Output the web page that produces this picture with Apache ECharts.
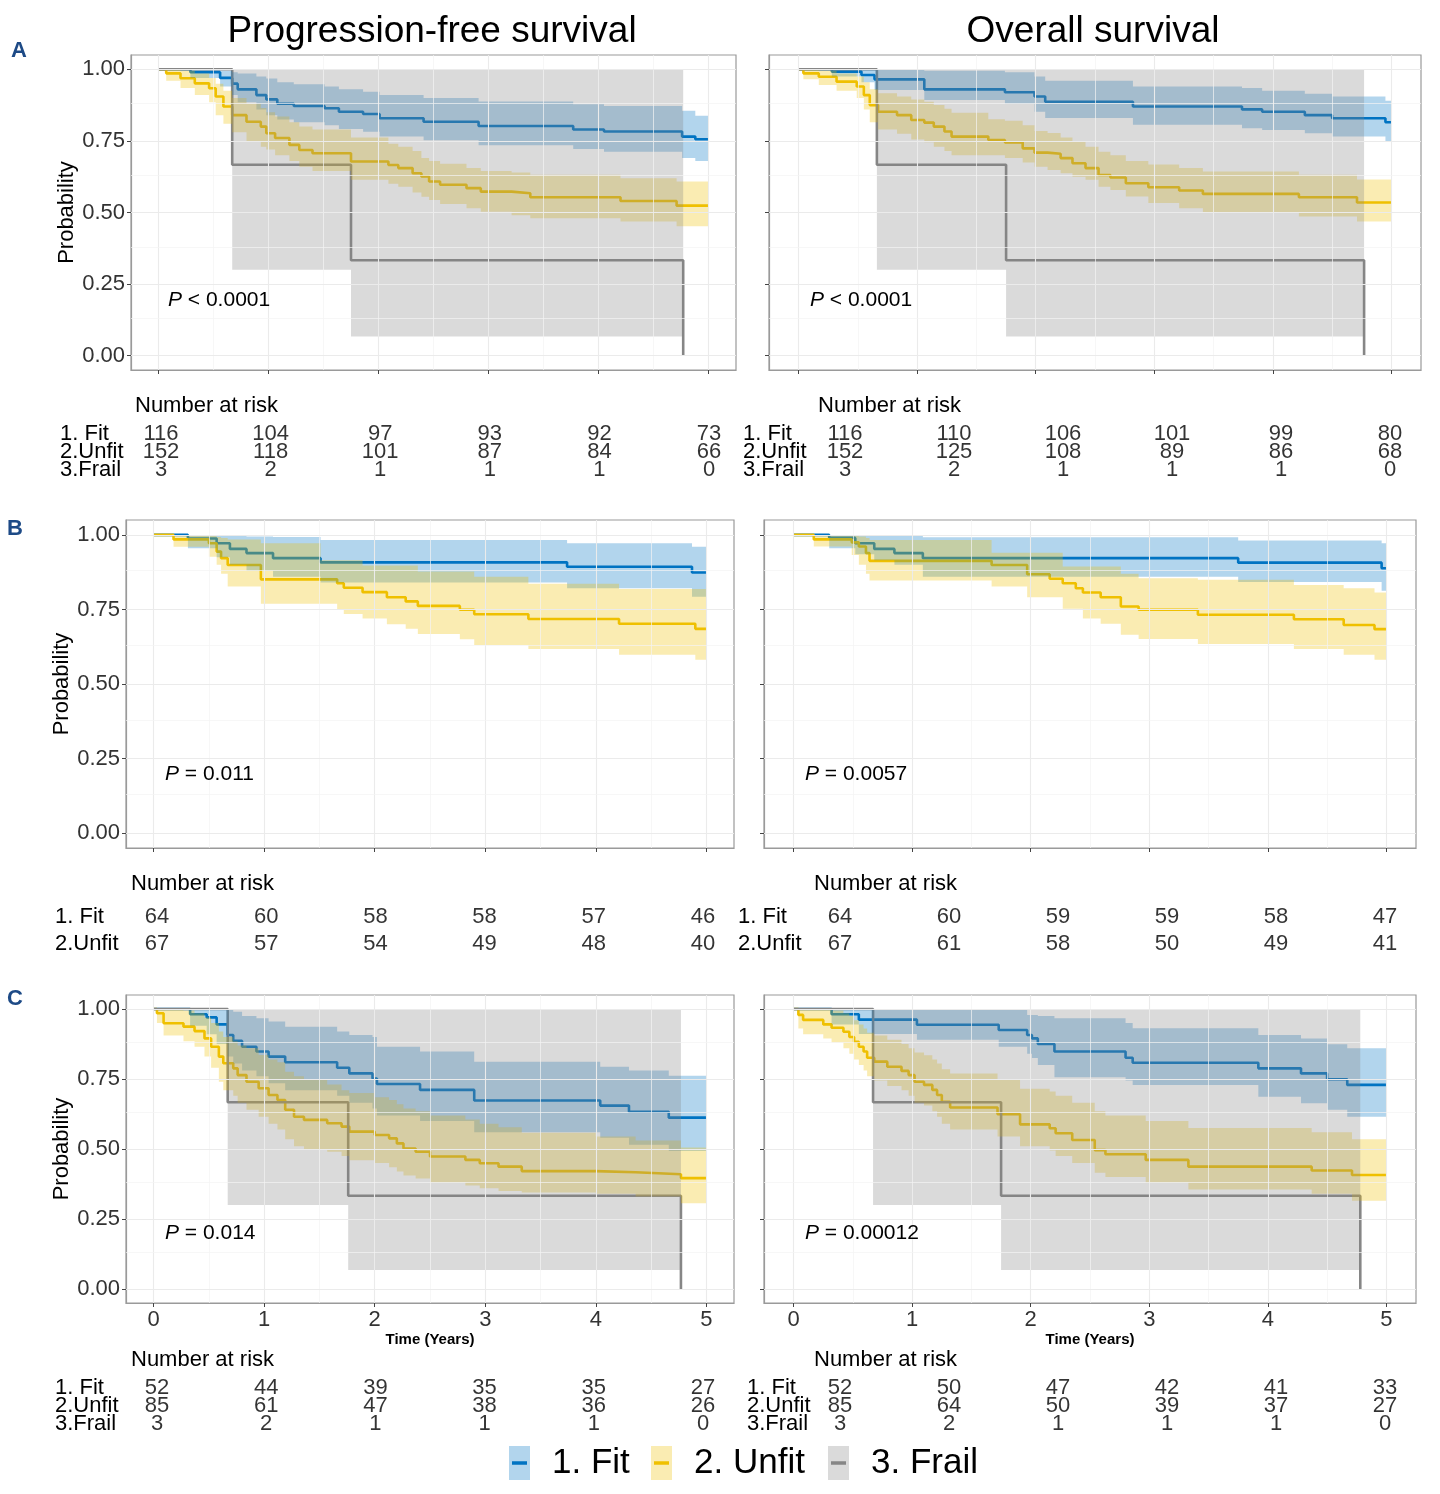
<!DOCTYPE html>
<html>
<head>
<meta charset="utf-8">
<title>Survival by fitness group</title>
<script src="https://cdn.jsdelivr.net/npm/echarts@6/dist/echarts.min.js"></script>
<style>
  html, body { margin: 0; padding: 0; background: #fff; }
  #main { width: 1440px; height: 1494px; }
</style>
</head>
<body>
<div id="main"></div>
<script>
// each row: [time in years, survival, lower CI, upper CI]
// A: all patients
var aPfsFit = [[0,1,1,1],[0.29,.99,.97,1],[0.56,.97,.94,.995],[0.67,.95,.91,.99],[0.72,.93,.885,.985],[0.89,.91,.86,.975],[0.98,.895,.84,.968],[1.08,.88,.825,.955],[1.23,.872,.815,.948],[1.51,.864,.805,.94],[1.64,.852,.792,.93],[1.86,.844,.782,.922],[2.01,.829,.765,.91],[2.41,.817,.752,.9],[2.91,.802,.735,.888],[3.77,.79,.722,.878],[4.05,.783,.712,.872],[4.76,.765,.69,.855],[4.88,.756,.68,.838],[5,.756,.68,.838]];
var aPfsUnfit = [[0,1,1,1],[0.07,.986,.96,1],[0.2,.969,.935,.995],[0.33,.951,.91,.985],[0.46,.934,.885,.97],[0.52,.905,.84,.95],[0.59,.87,.81,.925],[0.67,.84,.78,.9],[0.8,.817,.75,.88],[0.93,.8,.73,.865],[0.98,.777,.72,.85],[1.06,.76,.7,.835],[1.19,.736,.68,.815],[1.28,.718,.66,.8],[1.4,.707,.645,.79],[1.75,.678,.614,.762],[2.09,.666,.6,.74],[2.18,.655,.59,.73],[2.31,.637,.57,.715],[2.39,.626,.555,.69],[2.46,.608,.544,.68],[2.56,.597,.53,.67],[2.8,.585,.515,.655],[2.93,.573,.503,.645],[3.21,.567,.49,.64],[3.38,.553,.48,.632],[4.2,.54,.469,.62],[4.71,.524,.452,.608],[5,.524,.452,.608]];
var aPfsFrail = [[0,1,1,1],[0.67,.667,.3,1],[1.75,.333,.067,1],[4.77,0,0,1]];
var aOsFit = [[0,1,1,1],[0.28,.992,.975,1],[0.53,.98,.955,1],[0.64,.965,.928,.998],[1.06,.93,.893,.995],[1.74,.92,.88,.99],[1.99,.905,.852,.975],[2.08,.887,.83,.96],[2.82,.87,.806,.94],[3.74,.86,.794,.935],[3.91,.852,.788,.925],[4.27,.84,.777,.915],[4.5,.829,.765,.905],[4.95,.815,.75,.89],[5,.815,.75,.89]];
var aOsUnfit = [[0,1,1,1],[0.04,.986,.965,1],[0.17,.974,.945,.995],[0.32,.957,.925,.985],[0.49,.94,.9,.975],[0.55,.91,.86,.955],[0.6,.875,.815,.93],[0.67,.852,.79,.916],[0.83,.84,.775,.905],[0.95,.823,.755,.895],[1.06,.814,.745,.887],[1.14,.8,.73,.875],[1.23,.783,.715,.862],[1.29,.765,.7,.848],[1.6,.753,.7,.826],[1.74,.745,.69,.82],[1.89,.724,.675,.805],[1.99,.709,.66,.785],[2.1,.705,.648,.778],[2.21,.69,.637,.762],[2.31,.672,.625,.748],[2.42,.655,.614,.73],[2.53,.631,.59,.712],[2.63,.622,.579,.7],[2.76,.602,.556,.68],[2.95,.588,.533,.668],[3.21,.577,.515,.655],[3.41,.565,.498,.643],[4.22,.553,.486,.632],[4.71,.535,.469,.615],[5,.535,.469,.615]];
var aOsFrail = [[0,1,1,1],[0.66,.667,.3,1],[1.75,.333,.067,1],[4.77,0,0,1]];
// B: patients without frail group
var bPfsFit = [[0,1,1,1],[0.31,.988,.955,1],[0.57,.972,.925,.998],[0.69,.953,.9,.997],[0.84,.939,.88,.995],[1.08,.922,.86,.993],[1.51,.908,.84,.983],[3.74,.893,.821,.972],[4.87,.874,.793,.96],[5,.874,.793,.96]];
var bPfsUnfit = [[0,1,1,1],[0.18,.985,.96,1],[0.5,.972,.927,.997],[0.57,.944,.9,.993],[0.61,.922,.87,.99],[0.67,.899,.827,.985],[0.97,.851,.769,.972],[1.51,.851,.769,.915],[1.66,.838,.749,.915],[1.72,.823,.735,.915],[1.89,.808,.72,.897],[2.11,.791,.7,.897],[2.28,.777,.685,.897],[2.39,.762,.668,.877],[2.77,.749,.65,.877],[2.9,.734,.631,.86],[3.39,.718,.617,.836],[4.21,.702,.598,.819],[4.9,.685,.581,.819],[5,.685,.581,.819]];
var bOsFit = [[0,1,1,1],[0.3,.99,.955,1],[0.52,.972,.935,1],[0.68,.953,.915,1],[0.85,.939,.9,1],[1.09,.922,.86,.992],[3.75,.907,.842,.981],[4.96,.888,.813,.972],[5,.888,.813,.972]];
var bOsUnfit = [[0,1,1,1],[0.17,.985,.961,1],[0.49,.975,.933,.998],[0.55,.961,.9,.995],[0.61,.939,.87,.99],[0.64,.913,.847,.983],[1.67,.899,.827,.94],[1.97,.868,.791,.94],[2.16,.853,.791,.94],[2.27,.838,.752,.894],[2.38,.821,.752,.894],[2.44,.807,.72,.894],[2.59,.791,.702,.894],[2.76,.76,.665,.87],[2.91,.749,.651,.855],[3.41,.732,.634,.85],[4.22,.717,.617,.832],[4.64,.698,.598,.821],[4.9,.684,.581,.807],[5,.684,.581,.807]];
// C: subgroup
var cPfsFit = [[0,1,1,1],[0.33,.981,.94,1],[0.48,.97,.91,1],[0.57,.945,.875,1],[0.67,.907,.83,1],[0.72,.886,.805,.99],[0.8,.865,.78,.975],[0.93,.848,.76,.967],[1.04,.83,.735,.955],[1.19,.81,.71,.937],[1.66,.79,.69,.92],[1.77,.77,.665,.907],[1.98,.752,.645,.9],[2.02,.732,.62,.865],[2.41,.711,.6,.848],[2.9,.673,.56,.812],[4.04,.655,.54,.794],[4.3,.633,.515,.78],[4.66,.612,.493,.762],[5,.612,.493,.762]];
var cPfsUnfit = [[0,1,1,1],[0.03,.985,.95,1],[0.09,.949,.905,1],[0.27,.937,.885,.995],[0.37,.921,.865,.985],[0.46,.895,.83,.97],[0.52,.865,.79,.95],[0.59,.83,.74,.92],[0.63,.806,.71,.9],[0.72,.788,.69,.885],[0.76,.764,.665,.87],[0.84,.74,.64,.86],[0.95,.717,.615,.836],[1.04,.693,.59,.82],[1.12,.675,.57,.81],[1.19,.64,.535,.776],[1.27,.615,.51,.76],[1.36,.604,.5,.75],[1.57,.592,.49,.73],[1.7,.58,.475,.71],[1.77,.562,.46,.7],[2,.55,.45,.685],[2.13,.538,.435,.675],[2.2,.52,.42,.66],[2.26,.502,.405,.645],[2.37,.49,.395,.635],[2.5,.473,.38,.62],[2.82,.461,.37,.605],[2.95,.449,.36,.59],[3.12,.437,.35,.578],[3.33,.421,.345,.558],[4,.417,.34,.545],[4.36,.41,.33,.53],[4.77,.396,.306,.505],[5,.396,.306,.505]];
var cPfsFrail = [[0,1,1,1],[0.67,.667,.3,1],[1.76,.333,.068,1],[4.77,0,0,1]];
var cOsFit = [[0,1,1,1],[0.32,.981,.945,1],[0.55,.962,.911,1],[1.04,.944,.89,1],[1.73,.925,.865,1],[1.97,.907,.84,.979],[2.01,.895,.825,.979],[2.06,.875,.8,.975],[2.2,.848,.756,.967],[2.8,.826,.745,.95],[2.86,.808,.729,.931],[3.92,.788,.687,.907],[4.28,.77,.663,.895],[4.5,.749,.64,.874],[4.67,.729,.615,.86],[5,.729,.615,.86]];
var cOsUnfit = [[0,1,1,1],[0.04,.979,.93,1],[0.08,.961,.91,1],[0.25,.945,.895,1],[0.32,.933,.88,.995],[0.42,.919,.86,.985],[0.47,.9,.84,.975],[0.51,.883,.82,.96],[0.55,.865,.8,.945],[0.59,.848,.78,.93],[0.62,.826,.76,.915],[0.68,.812,.745,.905],[0.79,.794,.725,.89],[0.91,.779,.71,.875],[0.97,.764,.69,.86],[1.02,.74,.665,.845],[1.1,.729,.655,.835],[1.17,.711,.635,.82],[1.21,.693,.615,.805],[1.25,.669,.59,.785],[1.32,.648,.57,.77],[1.72,.624,.545,.75],[1.91,.588,.51,.715],[2.16,.574,.495,.705],[2.21,.556,.475,.69],[2.35,.532,.45,.665],[2.54,.496,.415,.635],[2.63,.481,.4,.62],[2.97,.461,.38,.6],[3.33,.437,.355,.575],[4.37,.423,.34,.56],[4.71,.407,.315,.535],[5,.407,.315,.535]];
var cOsFrail = [[0,1,1,1],[0.67,.667,.3,1],[1.75,.333,.068,1],[4.78,0,0,1]];

// number at risk at years 0..5
var riskTimes = [0, 1, 2, 3, 4, 5];
var aPfsRisk = [[116,104,97,93,92,73],[152,118,101,87,84,66],[3,2,1,1,1,0]];
var aOsRisk = [[116,110,106,101,99,80],[152,125,108,89,86,68],[3,2,1,1,1,0]];
var bPfsRisk = [[64,60,58,58,57,46],[67,57,54,49,48,40]];
var bOsRisk = [[64,60,59,59,58,47],[67,61,58,50,49,41]];
var cPfsRisk = [[52,44,39,35,35,27],[85,61,47,38,36,26],[3,2,1,1,1,0]];
var cOsRisk = [[52,50,47,42,41,33],[85,64,50,39,37,27],[3,2,1,1,1,0]];

var groupNames = ['1. Fit', '2. Unfit', '3. Frail'];
var tableNames = ['1. Fit', '2.Unfit', '3.Frail'];
var pValues = ['< 0.0001', '< 0.0001', '= 0.011', '= 0.0057', '= 0.014', '= 0.00012'];
var xTicks = [0, 1, 2, 3, 4, 5];
var yTicks = [0, 0.25, 0.5, 0.75, 1];
var xMinor = [0.5, 1.5, 2.5, 3.5, 4.5];
var yMinor = [0.125, 0.375, 0.625, 0.875];

var FONT = "'Liberation Sans', Arial, sans-serif";
var lineColors = ['#0073C2', '#EFC000', '#868686'];

// panel layout: box = [left, top, width, height]
var panels = [
  {box: [131, 55, 605, 315], curves: [aPfsFit, aPfsUnfit, aPfsFrail], yLab: true, xLab: false, pX: 168, pY: 300},
  {box: [769, 55, 652, 315], curves: [aOsFit, aOsUnfit, aOsFrail], yLab: false, xLab: false, pX: 810, pY: 300},
  {box: [126, 520, 608, 328], curves: [bPfsFit, bPfsUnfit], yLab: true, xLab: false, pX: 165, pY: 774},
  {box: [764, 520, 652, 328], curves: [bOsFit, bOsUnfit], yLab: false, xLab: false, pX: 805, pY: 774},
  {box: [126, 995, 608, 308], curves: [cPfsFit, cPfsUnfit, cPfsFrail], yLab: true, xLab: true, pX: 165, pY: 1233},
  {box: [764, 995, 652, 308], curves: [cOsFit, cOsUnfit, cOsFrail], yLab: false, xLab: true, pX: 805, pY: 1233}
];

// risk tables: x0/x5 = where year 0 and 5 sit
var tables = [
  {risk: aPfsRisk, x0: 161, x5: 709, top: 425, rowH: 18, labelX: 60, titleX: 135, titleY: 406},
  {risk: aOsRisk, x0: 845, x5: 1390, top: 425, rowH: 18, labelX: 743, titleX: 818, titleY: 406},
  {risk: bPfsRisk, x0: 157, x5: 703, top: 903, rowH: 27, labelX: 55, titleX: 131, titleY: 884},
  {risk: bOsRisk, x0: 840, x5: 1385, top: 903, rowH: 27, labelX: 738, titleX: 814, titleY: 884},
  {risk: cPfsRisk, x0: 157, x5: 703, top: 1379, rowH: 18, labelX: 55, titleX: 131, titleY: 1360},
  {risk: cOsRisk, x0: 840, x5: 1385, top: 1379, rowH: 18, labelX: 747, titleX: 814, titleY: 1360}
];

var option = {
  animation: false,
  textStyle: {fontFamily: FONT},
  grid: [], xAxis: [], yAxis: [], series: [], graphic: []
};

// 阶梯置信带（多边形）
function bandSeries(rows, color, gi) {
  return {
    type: 'custom', xAxisIndex: gi, yAxisIndex: gi, z: 3, silent: true,
    data: rows.map(function (r) { return [r[0], r[2], r[3]]; }),
    renderItem: function (params, api) {
      if (params.dataIndex !== 0) return null;
      var up = [], lo = [];
      for (var i = 0; i < rows.length - 1; i++) {
        up.push(api.coord([rows[i][0], rows[i][3]]), api.coord([rows[i + 1][0], rows[i][3]]));
        lo.push(api.coord([rows[i][0], rows[i][2]]), api.coord([rows[i + 1][0], rows[i][2]]));
      }
      return {
        type: 'polygon',
        shape: {points: up.concat(lo.reverse())},
        style: {fill: color, opacity: 0.3}
      };
    }
  };
}

function gridLines() {
  var d = [];
  xTicks.forEach(function (v) { d.push({xAxis: v, lineStyle: {color: '#ebebeb', width: 1.1, type: 'solid'}}); });
  xMinor.forEach(function (v) { d.push({xAxis: v, lineStyle: {color: '#f3f3f3', width: 0.7, type: 'solid'}}); });
  yTicks.forEach(function (v) { d.push({yAxis: v, lineStyle: {color: '#ebebeb', width: 1.1, type: 'solid'}}); });
  yMinor.forEach(function (v) { d.push({yAxis: v, lineStyle: {color: '#f3f3f3', width: 0.7, type: 'solid'}}); });
  return d;
}

panels.forEach(function (p, i) {
  option.grid.push({
    left: p.box[0], top: p.box[1], width: p.box[2], height: p.box[3],
    show: true, borderColor: '#9a9a9a', borderWidth: 1.2, backgroundColor: '#fff'
  });
  option.xAxis.push({
    gridIndex: i, type: 'value', min: -0.25, max: 5.25,
    name: p.xLab ? 'Time (Years)' : '', nameLocation: 'middle', nameGap: 24,
    nameTextStyle: {fontSize: 15, fontWeight: 'bold', color: '#000', fontFamily: FONT},
    axisLine: {onZero: false, lineStyle: {color: '#9a9a9a', width: 1.2}},
    axisTick: {show: true, customValues: xTicks, length: 4, lineStyle: {color: '#444'}},
    axisLabel: {show: p.xLab, customValues: xTicks, fontSize: 22, color: '#333', margin: 6},
    splitLine: {show: false}
  });
  option.yAxis.push({
    gridIndex: i, type: 'value', min: -0.05, max: 1.05,
    name: p.yLab ? 'Probability' : '', nameLocation: 'middle', nameGap: 52,
    nameTextStyle: {fontSize: 22, color: '#000', fontFamily: FONT},
    axisLine: {onZero: false, lineStyle: {color: '#9a9a9a', width: 1.2}},
    axisTick: {show: true, customValues: yTicks, length: 4, lineStyle: {color: '#444'}},
    axisLabel: {
      show: p.yLab, customValues: yTicks, fontSize: 22, color: '#333', margin: 6,
      formatter: function (v) { return v.toFixed(2); }
    },
    splitLine: {show: false}
  });
  // background grid lines
  option.series.push({
    type: 'line', xAxisIndex: i, yAxisIndex: i, data: [], z: 1, silent: true,
    markLine: {silent: true, symbol: 'none', animation: false, label: {show: false}, data: gridLines()}
  });
  p.curves.forEach(function (rows, g) {
    option.series.push({
      name: groupNames[g], type: 'line', xAxisIndex: i, yAxisIndex: i, step: 'end',
      showSymbol: false, symbol: 'none', silent: true, z: 2,
      data: rows.map(function (r) { return [r[0], r[1]]; }),
      lineStyle: {color: lineColors[g], width: 2.6}
    });
  });
  p.curves.forEach(function (rows, g) {
    option.series.push(bandSeries(rows, lineColors[g], i));
  });
  option.graphic.push({
    type: 'text', x: p.pX, y: p.pY, z: 100, silent: true,
    style: {
      text: '{i|P} ' + pValues[i], fontSize: 21, fontFamily: FONT, fill: '#000',
      verticalAlign: 'middle', align: 'left',
      rich: {i: {fontStyle: 'italic', fontSize: 21, fontFamily: FONT, fill: '#000'}}
    }
  });
});

// 风险表
tables.forEach(function (t) {
  var gi = option.grid.length;
  var n = t.risk.length;
  var names = tableNames.slice(0, n);
  option.grid.push({left: t.x0, top: t.top, width: t.x5 - t.x0, height: t.rowH * n});
  option.xAxis.push({gridIndex: gi, type: 'value', min: 0, max: 5, show: false});
  option.yAxis.push({
    gridIndex: gi, type: 'category', data: names, inverse: true,
    axisLine: {show: false}, axisTick: {show: false}, splitLine: {show: false},
    axisLabel: {interval: 0, hideOverlap: false, align: 'left', margin: t.x0 - t.labelX, fontSize: 22, color: '#000'}
  });
  var pts = [];
  t.risk.forEach(function (vals, r) {
    vals.forEach(function (v, k) { pts.push([riskTimes[k], names[r], v]); });
  });
  option.series.push({
    type: 'scatter', xAxisIndex: gi, yAxisIndex: gi, symbolSize: 1, silent: true,
    itemStyle: {color: 'transparent'},
    data: pts,
    label: {
      show: true, position: 'inside', fontSize: 22, color: '#000',
      formatter: function (q) { return q.value[2]; }
    }
  });
  option.graphic.push({
    type: 'text', x: t.titleX, y: t.titleY, z: 100, silent: true,
    style: {text: 'Number at risk', fontSize: 22, fontFamily: FONT, fill: '#000', verticalAlign: 'middle'}
  });
});

// titles and panel letters
option.graphic.push(
  {type: 'text', x: 432, y: 32, z: 100, silent: true, style: {text: 'Progression-free survival', fontSize: 37, fontFamily: FONT, fill: '#000', align: 'center', verticalAlign: 'middle'}},
  {type: 'text', x: 1093, y: 32, z: 100, silent: true, style: {text: 'Overall survival', fontSize: 37, fontFamily: FONT, fill: '#000', align: 'center', verticalAlign: 'middle'}},
  {type: 'text', x: 19, y: 51, z: 100, silent: true, style: {text: 'A', fontSize: 22, fontWeight: 'bold', fontFamily: FONT, fill: '#1d4a86', align: 'center', verticalAlign: 'middle'}},
  {type: 'text', x: 15, y: 529, z: 100, silent: true, style: {text: 'B', fontSize: 22, fontWeight: 'bold', fontFamily: FONT, fill: '#1d4a86', align: 'center', verticalAlign: 'middle'}},
  {type: 'text', x: 15, y: 999, z: 100, silent: true, style: {text: 'C', fontSize: 22, fontWeight: 'bold', fontFamily: FONT, fill: '#1d4a86', align: 'center', verticalAlign: 'middle'}}
);

// legend
var legendX = [509, 651, 828];
groupNames.forEach(function (nm, g) {
  var x = legendX[g];
  option.graphic.push(
    {type: 'rect', z: 100, silent: true, shape: {x: x, y: 1446, width: 21, height: 34}, style: {fill: lineColors[g], opacity: 0.3}},
    {type: 'line', z: 101, silent: true, shape: {x1: x + 3, y1: 1463, x2: x + 18, y2: 1463}, style: {stroke: lineColors[g], lineWidth: 3.5}},
    {type: 'text', z: 100, silent: true, x: x + 43, y: 1463, style: {text: nm, fontSize: 35, fontFamily: FONT, fill: '#000', verticalAlign: 'middle'}}
  );
});

var chart = echarts.init(document.getElementById('main'));
chart.setOption(option);
</script>
</body>
</html>
